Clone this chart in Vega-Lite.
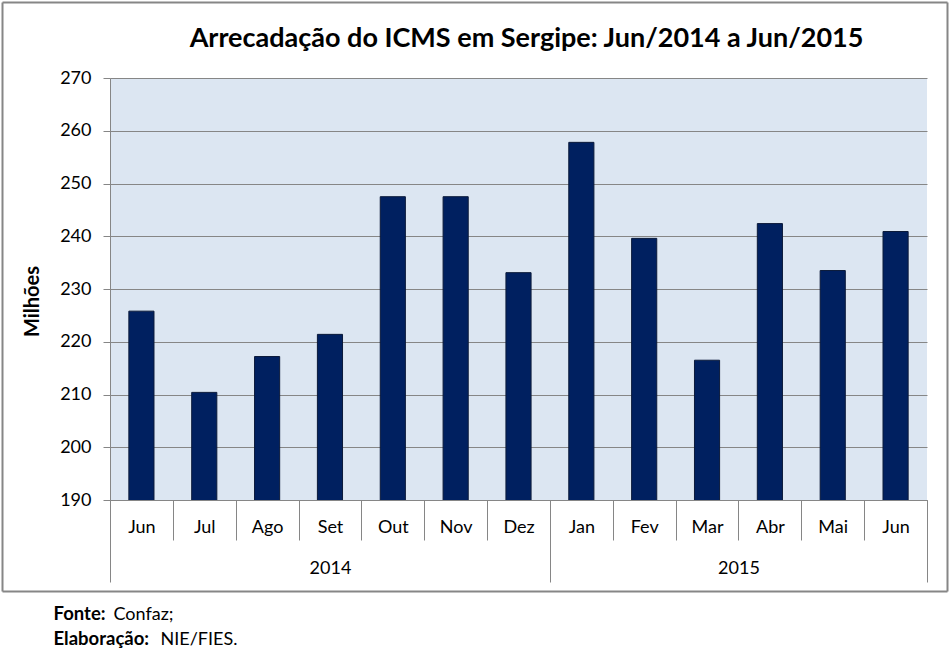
{
  "$schema": "https://vega.github.io/schema/vega-lite/v6.json",
  "description": "Arrecadação do ICMS em Sergipe, Jun/2014 a Jun/2015",
  "autosize": "none",
  "width": 817,
  "height": 422,
  "padding": {"left": 110, "top": 78, "right": 23, "bottom": 163},
  "background": "#FFFFFF",
  "title": {
    "text": "Arrecadação do ICMS em Sergipe: Jun/2014 a Jun/2015",
    "font": "Lato",
    "fontSize": 27,
    "fontWeight": "bold",
    "color": "#000000",
    "anchor": "middle",
    "dx": 8,
    "offset": -51
  },
  "config": {
    "view": {"fill": "#DCE6F2", "stroke": null},
    "axis": {
      "labelFont": "Lato",
      "titleFont": "Lato",
      "labelColor": "#000000",
      "titleColor": "#000000",
      "domainColor": "#868686",
      "tickColor": "#868686",
      "gridColor": "#868686"
    }
  },
  "data": {
    "values": [
      {"idx": 0, "mes_ano": "Jun/2014", "valor": 225.8},
      {"idx": 1, "mes_ano": "Jul/2014", "valor": 210.4},
      {"idx": 2, "mes_ano": "Ago/2014", "valor": 217.2},
      {"idx": 3, "mes_ano": "Set/2014", "valor": 221.4},
      {"idx": 4, "mes_ano": "Out/2014", "valor": 247.5},
      {"idx": 5, "mes_ano": "Nov/2014", "valor": 247.5},
      {"idx": 6, "mes_ano": "Dez/2014", "valor": 233.1},
      {"idx": 7, "mes_ano": "Jan/2015", "valor": 257.8},
      {"idx": 8, "mes_ano": "Fev/2015", "valor": 239.6},
      {"idx": 9, "mes_ano": "Mar/2015", "valor": 216.5},
      {"idx": 10, "mes_ano": "Abr/2015", "valor": 242.4},
      {"idx": 11, "mes_ano": "Mai/2015", "valor": 233.5},
      {"idx": 12, "mes_ano": "Jun/2015", "valor": 240.9}
    ]
  },
  "layer": [
    {
      "mark": {
        "type": "bar",
        "fill": "#002060",
        "stroke": "#0B1A3A",
        "strokeWidth": 1,
        "width": {"band": 0.4},
        "clip": true
      },
      "encoding": {
        "x": {
          "field": "mes_ano",
          "type": "ordinal",
          "sort": null,
          "scale": {"paddingInner": 0, "paddingOuter": 0},
          "axis": {
            "orient": "bottom",
            "labelExpr": "split(datum.label, '/')[0]",
            "labelAngle": 0,
            "labelFontSize": 18,
            "labelPadding": -22,
            "tickBand": "extent",
            "tickSize": 40,
            "tickWidth": 1,
            "domainWidth": 1,
            "title": "Fonte:",
            "titleFontSize": 18.5,
            "titleFontWeight": "bold",
            "titleAlign": "left",
            "titleBaseline": "alphabetic",
            "titleAngle": 0,
            "titleX": -57,
            "titleY": 119
          }
        },
        "y": {
          "field": "valor",
          "type": "quantitative",
          "scale": {"domain": [190, 270], "zero": false, "nice": false},
          "axis": {
            "values": [190, 200, 210, 220, 230, 240, 250, 260, 270],
            "grid": true,
            "gridWidth": 1,
            "tickSize": 7,
            "labelFontSize": 18,
            "labelPadding": 12,
            "title": "Milhões",
            "titleFontSize": 20,
            "titleFontWeight": "bold",
            "titlePadding": 17,
            "titleY": 223
          }
        }
      }
    },
    {
      "mark": {"type": "point", "opacity": 0},
      "encoding": {
        "x": {
          "field": "idx",
          "type": "quantitative",
          "scale": {"domain": [0, 13], "zero": false, "nice": false},
          "axis": {
            "orient": "bottom",
            "values": [0, 7, 13],
            "labels": false,
            "domain": false,
            "grid": false,
            "tickSize": 82,
            "tickWidth": 1,
            "title": "Elaboração:",
            "titleFontSize": 18.5,
            "titleFontWeight": "bold",
            "titleAlign": "left",
            "titleBaseline": "alphabetic",
            "titleAngle": 0,
            "titleX": -57,
            "titleY": 144
          }
        }
      }
    },
    {
      "mark": {"type": "point", "opacity": 0},
      "encoding": {
        "x": {
          "field": "idx",
          "type": "quantitative",
          "scale": {"domain": [0, 13], "zero": false, "nice": false},
          "axis": {
            "orient": "bottom",
            "values": [3.5, 10],
            "labelExpr": "datum.value < 7 ? '2014' : '2015'",
            "labelFontSize": 18,
            "labelPadding": 59,
            "ticks": false,
            "domain": false,
            "grid": false,
            "title": "Confaz;",
            "titleFontSize": 18,
            "titleFontWeight": "normal",
            "titleAlign": "left",
            "titleBaseline": "alphabetic",
            "titleAngle": 0,
            "titleX": 3,
            "titleY": 119
          }
        }
      }
    },
    {
      "mark": {"type": "point", "opacity": 0},
      "encoding": {
        "x": {
          "field": "idx",
          "type": "quantitative",
          "scale": {"domain": [0, 13], "zero": false, "nice": false},
          "axis": {
            "orient": "bottom",
            "labels": false,
            "ticks": false,
            "domain": false,
            "grid": false,
            "title": "NIE/FIES.",
            "titleFontSize": 18,
            "titleFontWeight": "normal",
            "titleAlign": "left",
            "titleBaseline": "alphabetic",
            "titleAngle": 0,
            "titleX": 50,
            "titleY": 144
          }
        }
      }
    },
    {
      "mark": {"type": "point", "opacity": 0},
      "encoding": {
        "x": {
          "field": "idx",
          "type": "quantitative",
          "scale": {"domain": [0, 13], "zero": false, "nice": false, "range": [-108, 837]},
          "axis": {
            "orient": "top",
            "offset": 76,
            "labels": false,
            "ticks": false,
            "grid": false,
            "domainColor": "#868686",
            "domainWidth": 2,
            "title": null
          }
        },
        "y": {
          "field": "idx",
          "type": "quantitative",
          "scale": {"domain": [0, 13], "zero": false, "nice": false, "range": [513, -76]},
          "axis": {
            "orient": "left",
            "offset": 108,
            "labels": false,
            "ticks": false,
            "grid": false,
            "domainColor": "#868686",
            "domainWidth": 2,
            "title": null
          }
        }
      }
    },
    {
      "mark": {"type": "point", "opacity": 0},
      "encoding": {
        "x": {
          "field": "idx",
          "type": "quantitative",
          "scale": {"domain": [0, 13], "zero": false, "nice": false, "range": [-108, 837]},
          "axis": {
            "orient": "bottom",
            "offset": 91,
            "labels": false,
            "ticks": false,
            "grid": false,
            "domainColor": "#868686",
            "domainWidth": 2,
            "title": null
          }
        },
        "y": {
          "field": "idx",
          "type": "quantitative",
          "scale": {"domain": [0, 13], "zero": false, "nice": false, "range": [513, -76]},
          "axis": {
            "orient": "right",
            "offset": 20,
            "labels": false,
            "ticks": false,
            "grid": false,
            "domainColor": "#868686",
            "domainWidth": 2,
            "title": null
          }
        }
      }
    }
  ],
  "resolve": {
    "scale": {"x": "independent", "y": "independent"},
    "axis": {"x": "independent", "y": "independent"}
  }
}
